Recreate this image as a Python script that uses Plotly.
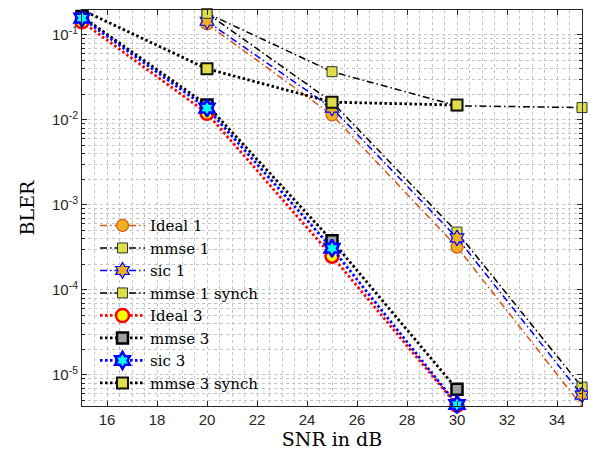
import plotly.graph_objects as go

# ---- data ----
snr_1 = [20, 25, 30, 35]
snr_3 = [15, 20, 25, 30]
ideal_1 = [0.135, 0.0115, 3.2e-4, 4.3e-6]
mmse_1 = [0.18, 0.0163, 4.8e-4, 7.2e-6]
sic_1 = [0.145, 0.0138, 4.1e-4, 5.8e-6]
mmse_1_synch = [0.18, 0.037, 0.0147, 0.014]
ideal_3 = [0.143, 0.012, 2.5e-4, 4.4e-6]
mmse_3 = [0.165, 0.015, 3.8e-4, 6.8e-6]
sic_3 = [0.158, 0.0138, 3.1e-4, 4.5e-6]
mmse_3_synch = [0.197, 0.04, 0.0162, 0.015]

x_ticks = [16, 18, 20, 22, 24, 26, 28, 30, 32, 34]
y_ticks = [1e-5, 1e-4, 1e-3, 1e-2, 1e-1]
y_ticktext = ["10<sup>-5</sup>", "10<sup>-4</sup>", "10<sup>-3</sup>", "10<sup>-2</sup>", "10<sup>-1</sup>"]

DASHDOT = "7px,3px,1.5px,3px"
DOT = "2.5px,2.5px"

series = [
    ("Ideal 1", snr_1, ideal_1, "#D95319", 1.5, DASHDOT, "circle", 12, "#EDB120", "#D95319", 1.2),
    ("mmse 1", snr_1, mmse_1, "#000000", 1.5, DASHDOT, "square", 10, "#DEDE48", "#333333", 1.0),
    ("sic 1", snr_1, sic_1, "#0000FF", 1.5, DASHDOT, "hexagram", 12, "#EDB120", "#0000FF", 1.2),
    ("mmse 1 synch", snr_1, mmse_1_synch, "#000000", 1.5, DASHDOT, "square", 10, "#DEDE48", "#333333", 1.0),
    ("Ideal 3", snr_3, ideal_3, "#FF0000", 2.8, DOT, "circle", 13, "#FFFF00", "#FF0000", 2.5),
    ("mmse 3", snr_3, mmse_3, "#000000", 2.8, DOT, "square", 11, "#A0A0A0", "#000000", 2.5),
    ("sic 3", snr_3, sic_3, "#0000FF", 2.8, DOT, "hexagram", 13, "#00FFFF", "#0000FF", 2.5),
    ("mmse 3 synch", snr_3, mmse_3_synch, "#000000", 2.8, DOT, "square", 11, "#DEDE48", "#111111", 2.0),
]

fig = go.Figure()
for name, xs, ys, lc, lw, dash, sym, ms, fc, ec, ew in series:
    fig.add_trace(go.Scatter(
        x=xs, y=ys, name=name, mode="lines+markers",
        line=dict(color=lc, width=lw, dash=dash),
        marker=dict(symbol=sym, size=ms, color=fc, line=dict(color=ec, width=ew)),
        cliponaxis=False,
    ))

grid_col = "#c4c4c4"
serif = "DejaVu Serif"
fig.update_layout(
    # page body has an 8px margin, so the figure is shrunk by 8px on the left/top
    width=588, height=448,
    margin=dict(l=74, r=14, t=2, b=50),
    paper_bgcolor="white", plot_bgcolor="white",
    showlegend=True,
    legend=dict(
        x=0.026, y=0.497, xanchor="left", yanchor="top",
        bgcolor="rgba(0,0,0,0)", borderwidth=0,
        font=dict(family=serif, size=15, color="#000000"),
        itemwidth=45, tracegroupgap=0,
    ),
    xaxis=dict(
        range=[15, 35], tickvals=x_ticks,
        ticks="inside", ticklen=5, tickcolor="#262626",
        showline=True, linecolor="#262626", linewidth=1, mirror="ticks",
        showgrid=True, gridcolor=grid_col, griddash="dot", gridwidth=1,
        minor=dict(dtick=0.5, showgrid=True, gridcolor=grid_col, griddash="dot", ticks=""),
        zeroline=False,
        tickfont=dict(family="Liberation Sans", size=15, color="#262626"),
        title=dict(text="SNR in dB", font=dict(family=serif, size=19, color="#000000"), standoff=5),
    ),
    yaxis=dict(
        type="log", range=[-5.365, -0.706],
        tickvals=y_ticks, ticktext=y_ticktext,
        ticks="inside", ticklen=5, tickcolor="#262626",
        showline=True, linecolor="#262626", linewidth=1, mirror="ticks",
        showgrid=True, gridcolor=grid_col, griddash="dot", gridwidth=1,
        minor=dict(dtick="D1", showgrid=True, gridcolor=grid_col, griddash="dot",
                   ticks="inside", ticklen=3, tickcolor="#262626"),
        zeroline=False,
        tickfont=dict(family="Liberation Sans", size=15, color="#262626"),
        title=dict(text="BLER", font=dict(family=serif, size=19, color="#000000"), standoff=12),
    ),
)

fig.write_html("out.html")
